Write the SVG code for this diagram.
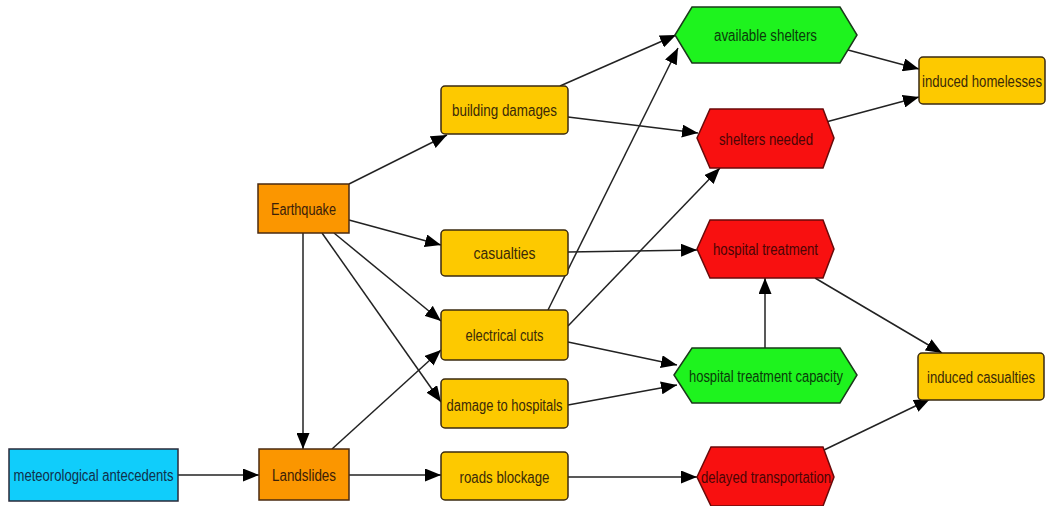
<svg xmlns="http://www.w3.org/2000/svg" width="1046" height="506" viewBox="0 0 1046 506">
<style>
text{font-family:"Liberation Sans",Arial,sans-serif;font-size:16px;text-anchor:middle;dominant-baseline:central}
.e{stroke:#222;stroke-width:1.5;fill:none;marker-end:url(#ah)}
.blue{fill:#10cdfb;stroke:#2a2a3a;stroke-width:1.5}
.orange{fill:#fb9600;stroke:#4a2a10;stroke-width:1.5}
.yellow{fill:#fdc900;stroke:#3a2a10;stroke-width:1.5}
.green{fill:#1ef31e;stroke:#1a3a1a;stroke-width:1.5}
.red{fill:#f81010;stroke:#6a0a0a;stroke-width:1.5}
.tb{fill:#10304a}.to{fill:#3a2008}.ty{fill:#3a2a08}.tg{fill:#0a3a0a}.tr{fill:#4a0505}
</style>
<defs>
<marker id="ah" markerUnits="userSpaceOnUse" markerWidth="17" markerHeight="13" refX="16" refY="6.5" orient="auto">
<path d="M0,0 L16,6.5 L0,13 z" fill="#000"/>
</marker>
</defs>
<rect width="1046" height="506" fill="#fff"/>
<g id="connectors">
<line class="e" x1="178" y1="475" x2="259" y2="475"/>
<line class="e" x1="303" y1="233" x2="303" y2="449"/>
<line class="e" x1="349" y1="184" x2="447" y2="135"/>
<line class="e" x1="349" y1="220" x2="441" y2="245"/>
<line class="e" x1="334" y1="233" x2="441" y2="321"/>
<line class="e" x1="322" y1="233" x2="441" y2="402"/>
<line class="e" x1="332" y1="449" x2="441" y2="350"/>
<line class="e" x1="349" y1="475" x2="441" y2="475"/>
<line class="e" x1="560" y1="86" x2="676" y2="35"/>
<line class="e" x1="568" y1="117" x2="698" y2="133"/>
<line class="e" x1="548" y1="310" x2="678" y2="48"/>
<line class="e" x1="568" y1="326" x2="720" y2="168"/>
<line class="e" x1="568" y1="342" x2="677" y2="365"/>
<line class="e" x1="568" y1="252" x2="697" y2="250"/>
<line class="e" x1="568" y1="405" x2="677" y2="385"/>
<line class="e" x1="765" y1="348" x2="765" y2="278"/>
<line class="e" x1="848" y1="50" x2="919" y2="69"/>
<line class="e" x1="826" y1="122" x2="919" y2="97"/>
<line class="e" x1="815" y1="278" x2="942" y2="353"/>
<line class="e" x1="824" y1="450" x2="930" y2="399"/>
<line class="e" x1="568" y1="477" x2="697" y2="477"/>
</g>
<g id="meteorological_antecedents"><rect class="blue" x="9" y="449" width="169" height="52"/><text class="tb" x="93.5" y="475" textLength="160" lengthAdjust="spacingAndGlyphs">meteorological antecedents</text></g>
<g id="landslides"><rect class="orange" x="259" y="449" width="90" height="51"/><text class="to" x="304" y="475" textLength="64" lengthAdjust="spacingAndGlyphs">Landslides</text></g>
<g id="earthquake"><rect class="orange" x="258" y="184" width="91" height="49"/><text class="to" x="303.5" y="209" textLength="65" lengthAdjust="spacingAndGlyphs">Earthquake</text></g>
<g id="building_damages"><rect class="yellow" x="441" y="86" width="127" height="48" rx="4"/><text class="ty" x="504.5" y="110" textLength="105" lengthAdjust="spacingAndGlyphs">building damages</text></g>
<g id="casualties"><rect class="yellow" x="441" y="230" width="127" height="46" rx="4"/><text class="ty" x="504.5" y="253" textLength="62" lengthAdjust="spacingAndGlyphs">casualties</text></g>
<g id="electrical_cuts"><rect class="yellow" x="441" y="310" width="127" height="50" rx="4"/><text class="ty" x="504.5" y="335" textLength="78" lengthAdjust="spacingAndGlyphs">electrical cuts</text></g>
<g id="damage_to_hospitals"><rect class="yellow" x="441" y="379" width="127" height="49" rx="4"/><text class="ty" x="504.5" y="405" textLength="116" lengthAdjust="spacingAndGlyphs">damage to hospitals</text></g>
<g id="roads_blockage"><rect class="yellow" x="441" y="452" width="127" height="48" rx="4"/><text class="ty" x="504.5" y="477" textLength="90" lengthAdjust="spacingAndGlyphs">roads blockage</text></g>
<g id="available_shelters"><polygon class="green" points="675,35 692,7 840,7 857,35 840,63 692,63"/><text class="tg" x="765.5" y="35" textLength="103" lengthAdjust="spacingAndGlyphs">available shelters</text></g>
<g id="shelters_needed"><polygon class="red" points="697,138 710,109 823,109 834,138 823,168 710,168"/><text class="tr" x="766" y="139" textLength="94" lengthAdjust="spacingAndGlyphs">shelters needed</text></g>
<g id="hospital_treatment"><polygon class="red" points="697,249 710,220 823,220 834,249 823,278 710,278"/><text class="tr" x="765.5" y="249" textLength="105" lengthAdjust="spacingAndGlyphs">hospital treatment</text></g>
<g id="hospital_treatment_capacity"><polygon class="green" points="674,375 692,348 840,348 857,375 840,403 692,403"/><text class="tg" x="766" y="376" textLength="154" lengthAdjust="spacingAndGlyphs">hospital treatment capacity</text></g>
<g id="delayed_transportation"><polygon class="red" points="697,477 711,447 823,447 834,477 823,506 711,506"/><text class="tr" x="766" y="477" textLength="130" lengthAdjust="spacingAndGlyphs">delayed transportation</text></g>
<g id="induced_homelesses"><rect class="yellow" x="919" y="57" width="126" height="47" rx="4"/><text class="ty" x="982" y="81" textLength="120" lengthAdjust="spacingAndGlyphs">induced homelesses</text></g>
<g id="induced_casualties"><rect class="yellow" x="918" y="353" width="126" height="47" rx="4"/><text class="ty" x="981" y="377" textLength="108" lengthAdjust="spacingAndGlyphs">induced casualties</text></g>
</svg>
